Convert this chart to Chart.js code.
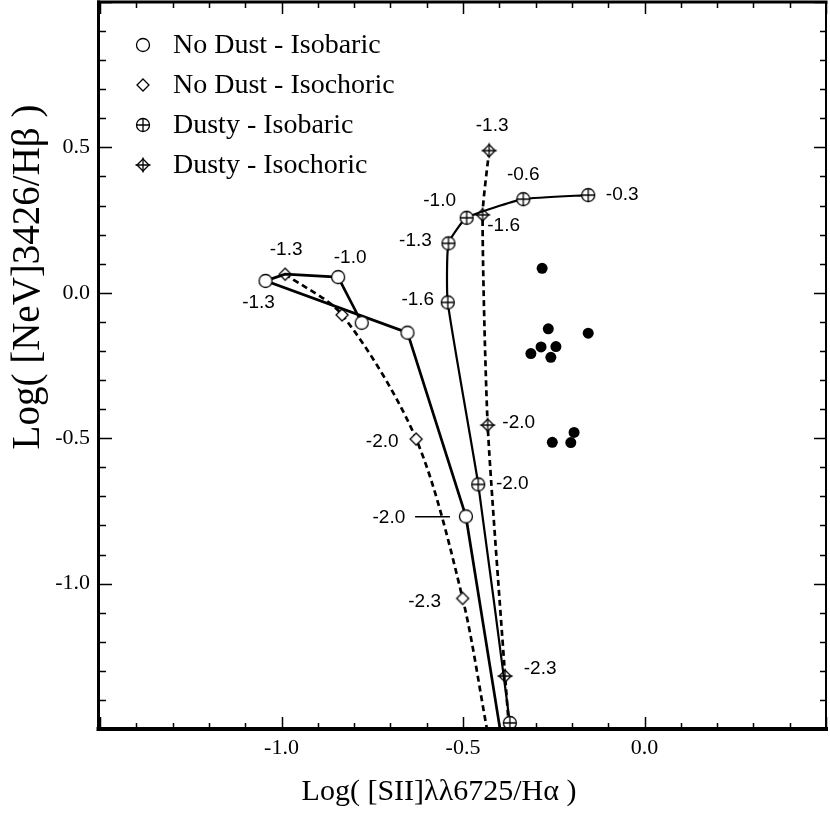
<!DOCTYPE html>
<html><head><meta charset="utf-8">
<script src="https://cdn.jsdelivr.net/npm/chart.js@4.4.0/dist/chart.umd.min.js"></script>
<style>html,body{margin:0;padding:0;background:#fff;}canvas{display:block;}</style>
</head><body>
<canvas id="c" width="830" height="815"></canvas>
<script>
// ---------------- data ----------------
// null label = line vertex without marker, '' = marker without label
const noDustIsobaricX = [-0.398, -0.492, -0.653, -1.044, -0.990, -0.844, -0.779];
const noDustIsobaricY = [-1.500, -0.769, -0.137, 0.041, 0.064, 0.054, -0.103];
const noDustIsobaricU = [null, '-2.0', '', '-1.3', null, '-1.0', ''];

const noDustIsochoricX = [-0.990, -0.833, -0.629, -0.501, -0.434];
const noDustIsochoricY = [0.064, -0.076, -0.503, -1.051, -1.500];
const noDustIsochoricU = ['-1.3', '', '-2.0', '-2.3', null];

const dustyIsobaricX = [-0.371, -0.458, -0.542, -0.540, -0.490, -0.334, -0.155];
const dustyIsobaricY = [-1.479, -0.659, -0.033, 0.170, 0.258, 0.322, 0.336];
const dustyIsobaricU = ['', '-2.0', '-1.6', '-1.3', '-1.0', '-0.6', '-0.3'];

const dustyIsochoricX = [-0.428, -0.446, -0.432, -0.384, -0.373];
const dustyIsochoricY = [0.489, 0.268, -0.455, -1.318, -1.500];
const dustyIsochoricU = ['-1.3', '-1.6', '-2.0', '-2.3', null];

const observedX = [-0.282, -0.265, -0.155, -0.313, -0.285, -0.244, -0.258, -0.194, -0.203, -0.254];
const observedY = [0.084, -0.124, -0.139, -0.209, -0.186, -0.185, -0.222, -0.480, -0.515, -0.514];

const leaderX = [-0.632, -0.536];
const leaderY = [-0.770, -0.770];

const seriesNames = ['No Dust - Isobaric', 'No Dust - Isochoric', 'Dusty - Isobaric', 'Dusty - Isochoric'];
const xTitle = 'Log( [SII]\u03bb\u03bb6725/H\u03b1 )';
const yTitle = 'Log( [NeV]3426/H\u03b2 )';
const xRange = [-1.5, 0.5];
const yRange = [-1.5, 1.0];

// ---------------- styles ----------------
const labelOffsets = [
  {1: [-77, 1], 3: [-7, 22], 5: [12, -19]},
  {0: [1, -24], 2: [-34, 3], 3: [-38, 3]},
  {1: [34, -1], 2: [-30, -3], 3: [-33, -3], 4: [-27, -17], 5: [0, -24], 6: [34, 0]},
  {0: [3, -25], 1: [21, 11], 2: [31, -2], 3: [35, -7]}
];

function makeMarker(kind) {
  const d = 20, c = document.createElement('canvas');
  c.width = d; c.height = d;
  const g = c.getContext('2d');
  const cx = d / 2, cy = d / 2;
  g.lineWidth = 1.3; g.strokeStyle = '#000'; g.fillStyle = '#fff';
  if (kind === 'circle' || kind === 'circlePlus') {
    const r = 6.5;
    g.beginPath(); g.arc(cx, cy, r, 0, Math.PI * 2); g.fill(); g.stroke();
    if (kind === 'circlePlus') {
      g.beginPath(); g.moveTo(cx - r, cy); g.lineTo(cx + r, cy);
      g.moveTo(cx, cy - r); g.lineTo(cx, cy + r); g.stroke();
    }
  } else {
    const r = 6;
    g.beginPath(); g.moveTo(cx, cy - r); g.lineTo(cx + r, cy); g.lineTo(cx, cy + r); g.lineTo(cx - r, cy); g.closePath();
    g.fill(); g.stroke();
    if (kind === 'diamondPlus') {
      g.beginPath(); g.moveTo(cx - r - 1.5, cy); g.lineTo(cx + r + 1.5, cy);
      g.moveTo(cx, cy - r - 1.5); g.lineTo(cx, cy + r + 1.5); g.stroke();
    }
  }
  return c;
}
const markers = [makeMarker('circle'), makeMarker('diamond'), makeMarker('circlePlus'), makeMarker('diamondPlus')];

function pts(xs, ys) { return xs.map((x, i) => ({x: x, y: ys[i]})); }

function curve(idx, xs, ys, us, extra) {
  return Object.assign({
    label: seriesNames[idx],
    data: pts(xs, ys),
    showLine: true,
    borderColor: '#000',
    backgroundColor: '#fff',
    pointStyle: markers[idx],
    pointRadius: us.map(u => u === null ? 0 : 6),
    pointHoverRadius: us.map(u => u === null ? 0 : 6),
    uLabels: us,
    offsets: labelOffsets[idx],
    legendMarker: markers[idx]
  }, extra);
}

const datasets = [
  curve(0, noDustIsobaricX, noDustIsobaricY, noDustIsobaricU, {borderWidth: 2.7, tension: 0}),
  curve(1, noDustIsochoricX, noDustIsochoricY, noDustIsochoricU, {borderWidth: 2.7, borderDash: [6, 4], tension: 0.3}),
  curve(2, dustyIsobaricX, dustyIsobaricY, dustyIsobaricU, {borderWidth: 2.2, tension: 0.15}),
  curve(3, dustyIsochoricX, dustyIsochoricY, dustyIsochoricU, {borderWidth: 2.7, borderDash: [6, 4], tension: 0.2}),
  {label: 'observed', data: pts(observedX, observedY), showLine: false, pointStyle: 'circle',
   pointRadius: 5.5, pointHoverRadius: 5.5, backgroundColor: '#000', borderColor: '#000', borderWidth: 0},
  {label: 'leader', data: pts(leaderX, leaderY), showLine: true, borderColor: '#000', borderWidth: 1.5,
   pointRadius: 0, pointHoverRadius: 0}
];

function isMajor(v) { return Math.abs(v * 2 - Math.round(v * 2)) < 1e-6; }
function tickFmt(range) {
  return function (value) {
    const v = Math.round(value * 10) / 10;
    if (!isMajor(v)) return '';
    if (v <= range[0] + 1e-6 || v >= range[1] - 1e-6) return '';
    return v.toFixed(1);
  };
}

const serif = "'Liberation Serif', 'Times New Roman', serif";
const sans = "'Liberation Sans', Arial, sans-serif";

const decorPlugin = {
  id: 'decor',
  afterDatasetsDraw(chart) {
    const ctx = chart.ctx, a = chart.chartArea;
    const xs = chart.scales.x, ys = chart.scales.y;
    ctx.save();
    // curve labels
    ctx.fillStyle = '#000';
    ctx.font = '19px ' + sans;
    ctx.textAlign = 'center';
    ctx.textBaseline = 'middle';
    chart.data.datasets.forEach((ds, di) => {
      if (!ds.uLabels) return;
      const meta = chart.getDatasetMeta(di);
      ds.uLabels.forEach((u, i) => {
        if (!u) return;
        const off = ds.offsets[i] || [0, 0];
        const el = meta.data[i];
        ctx.fillText(u, el.x + off[0], el.y + off[1]);
      });
    });
    // inward tick marks on all four sides
    ctx.strokeStyle = '#000';
    ctx.lineWidth = 1.5;
    ctx.beginPath();
    xs.ticks.forEach(t => {
      const v = Math.round(t.value * 10) / 10;
      const len = isMajor(v) ? 12 : 6;
      const p = Math.round(xs.getPixelForValue(t.value)) + 0.5;
      ctx.moveTo(p, a.bottom); ctx.lineTo(p, a.bottom - len);
      ctx.moveTo(p, a.top); ctx.lineTo(p, a.top + len);
    });
    ys.ticks.forEach(t => {
      const v = Math.round(t.value * 10) / 10;
      const len = isMajor(v) ? 12 : 6;
      const p = Math.round(ys.getPixelForValue(t.value)) + 0.5;
      ctx.moveTo(a.left, p); ctx.lineTo(a.left + len, p);
      ctx.moveTo(a.right, p); ctx.lineTo(a.right - len, p);
    });
    ctx.stroke();
    // frame
    ctx.lineCap = 'square';
    ctx.lineWidth = 3;
    ctx.beginPath(); ctx.moveTo(a.left - 1.5, a.top); ctx.lineTo(a.right, a.top); ctx.stroke();
    ctx.beginPath(); ctx.moveTo(a.left - 1.5, a.top); ctx.lineTo(a.left - 1.5, a.bottom); ctx.stroke();
    ctx.lineWidth = 4;
    ctx.beginPath(); ctx.moveTo(a.left - 1.5, a.bottom); ctx.lineTo(a.right, a.bottom); ctx.stroke();
    ctx.lineWidth = 2;
    ctx.beginPath(); ctx.moveTo(a.right, a.top); ctx.lineTo(a.right, a.bottom); ctx.stroke();
    // legend
    ctx.font = '28px ' + serif;
    ctx.textAlign = 'left';
    ctx.textBaseline = 'alphabetic';
    chart.data.datasets.forEach((ds, di) => {
      if (!ds.legendMarker) return;
      const by = a.top + 51 + di * 40;
      const m = ds.legendMarker;
      ctx.drawImage(m, a.left + 43 - m.width / 2, by - 8 - m.height / 2);
      ctx.fillText(ds.label, a.left + 73, by);
    });
    // axis titles
    ctx.font = '30px ' + serif;
    ctx.textAlign = 'center';
    ctx.fillText(xTitle, 439, 800);
    ctx.save();
    ctx.translate(39, 277);
    ctx.rotate(-Math.PI / 2);
    ctx.font = '39px ' + serif;
    ctx.fillText(yTitle, 0, 0);
    ctx.restore();
    ctx.restore();
  }
};

new Chart(document.getElementById('c'), {
  type: 'scatter',
  data: {datasets: datasets},
  options: {
    responsive: false,
    animation: false,
    layout: {autoPadding: false, padding: {top: 2, right: 4, left: 0, bottom: 0}},
    plugins: {legend: {display: false}, tooltip: {enabled: false}},
    scales: {
      x: {
        type: 'linear', min: xRange[0], max: xRange[1],
        afterFit: s => { s.height = 86; s.paddingLeft = 0; s.paddingRight = 0; s.paddingTop = 0; s.paddingBottom = 0; },
        grid: {display: false, drawTicks: false},
        border: {display: false},
        ticks: {stepSize: 0.1, autoSkip: false, maxRotation: 0, padding: 6, color: '#000',
                font: {family: serif, size: 22}, callback: tickFmt(xRange)}
      },
      y: {
        type: 'linear', min: yRange[0], max: yRange[1],
        afterFit: s => { s.width = 100; s.paddingLeft = 0; s.paddingRight = 0; s.paddingTop = 0; s.paddingBottom = 0; },
        grid: {display: false, drawTicks: false},
        border: {display: false},
        ticks: {stepSize: 0.1, autoSkip: false, padding: 10, color: '#000',
                font: {family: serif, size: 22}, callback: tickFmt(yRange)}
      }
    }
  },
  plugins: [decorPlugin]
});
</script>
</body></html>
